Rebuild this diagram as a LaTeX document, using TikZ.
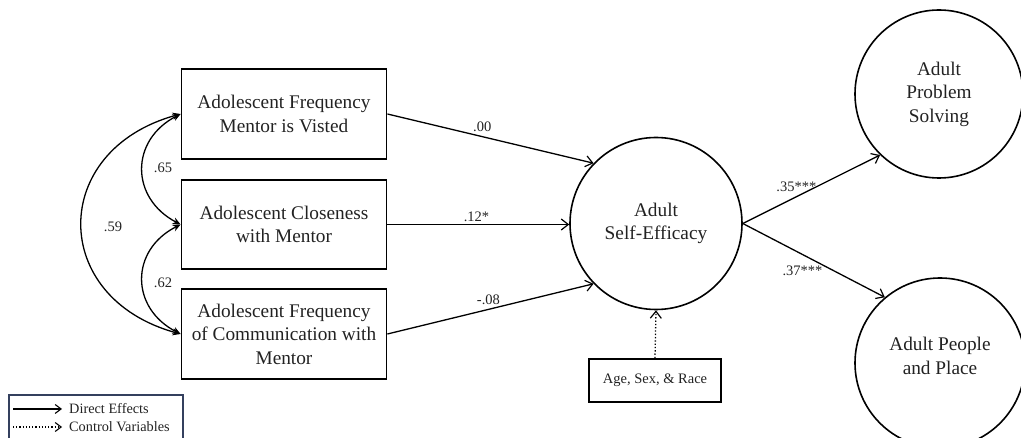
\documentclass[tikz,border=0pt]{standalone}
\usepackage{fontspec}
\setmainfont{Liberation Serif}
\usetikzlibrary{arrows.meta}
\definecolor{legcol}{HTML}{34405E}
\definecolor{txt}{HTML}{222222}
\tikzset{
  boxnode/.style={draw, line width=1.8pt, minimum width=205pt, align=center, font=\fontsize{19.3}{23.5}\selectfont, text=txt, inner sep=0pt},
  circnode/.style={draw, circle, line width=1.6pt, align=center, font=\fontsize{19.3}{23.5}\selectfont, text=txt, inner sep=0pt},
  arr/.style={line width=1.3pt, -{Straight Barb[length=7pt,width=11pt,line width=1.2pt]}},
  dotarr/.style={line width=1.3pt, dotted, -{Straight Barb[length=7pt,width=11pt,line width=1.2pt]}},
  cov/.style={line width=1.3pt, {Stealth[length=8pt,width=7pt]}-{Stealth[length=8pt,width=7pt]}},
  lbl/.style={font=\fontsize{14.5}{16}\selectfont, text=txt, inner sep=1pt},
  legtxt/.style={font=\fontsize{14.3}{16}\selectfont, text=txt, inner sep=0pt, anchor=west},
}
\begin{document}
\begin{tikzpicture}[x=1pt,y=-1pt]
\useasboundingbox (0,0) rectangle (1021,438);
% boxes
\node[boxnode, minimum height=90pt] (b1) at (284,114) {Adolescent Frequency\\Mentor is Visted};
\node[boxnode, minimum height=89pt] (b2) at (284,224.5) {Adolescent Closeness\\with Mentor};
\node[boxnode, minimum height=90pt] (b3) at (284,334) {Adolescent Frequency\\of Communication with\\Mentor};
% circles
\node[circnode, minimum size=172pt] (se) at (656,223.5) {Adult\\Self-Efficacy};
\node[circnode, minimum size=168pt] (ps) at (939,94) {Adult\\Problem\\Solving};
\node[circnode, minimum size=170pt, text depth=14pt] (pp) at (940,363) {Adult People\\and Place};
% control box
\node[draw, line width=1.8pt, minimum width=132pt, minimum height=43pt, inner sep=0pt, font=\fontsize{14.5}{16}\selectfont, text=txt] (ctl) at (655,380.5) {Age, Sex, \& Race};
% paths
\draw[arr] (b1.east) -- (se.136) node[lbl, pos=0.46, above=3pt] (l00) {.00};
\draw[arr] (b2.east) -- (b2.east -| se.west) node[lbl, pos=0.49, above=1pt] (l12) {.12*};
\draw[arr] (b3.east) -- (se.224) node[lbl, pos=0.49, above=3pt] (l08) {-.08};
\draw[arr] (se.east) -- (ps.226) node[lbl, pos=0.39, above=3pt] (l35) {.35***};
\draw[arr] (se.east) -- (pp.130) node[lbl, pos=0.42, below=10pt] (l37) {.37***};
\draw[dotarr] (ctl.north) -- (se.south);
% covariances
\draw[cov] (b1.west) .. controls (130,140) and (130,198) .. (b2.west);
\draw[cov] (b2.west) .. controls (130,250) and (130,308) .. (b3.west);
\draw[cov] (b1.west) .. controls (49,150) and (49,298) .. (b3.west);
\node[lbl] (c65) at (163,168) {.65};
\node[lbl] (c62) at (163,283) {.62};
\node[lbl] (c59) at (113,227) {.59};
% legend
\draw[legcol, line width=1.5pt] (9,395) rectangle (183,446);
\coordinate (la1) at (13,409);
\coordinate (lb1) at (62,409);
\coordinate (la2) at (13,427);
\coordinate (lb2) at (62,427);
\draw[line width=1.2pt, -{Straight Barb[length=6pt,width=9pt,line width=1.1pt]}] (la1) -- (lb1);
\draw[line width=1.2pt, dotted, -{Straight Barb[length=6pt,width=9pt,line width=1.1pt]}] (la2) -- (lb2);
\node[legtxt] (t1) at (69,409) {Direct Effects};
\node[legtxt] (t2) at (69,427) {Control Variables};
\end{tikzpicture}
\end{document}
